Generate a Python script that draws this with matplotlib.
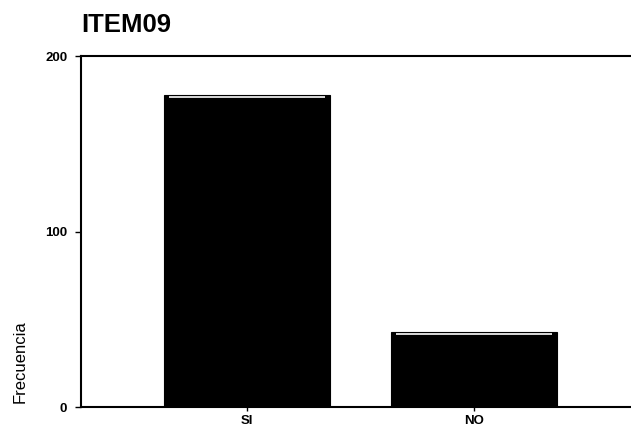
import matplotlib
matplotlib.use("Agg")
import matplotlib.pyplot as plt

categories = ["SI", "NO"]
counts = [178, 43]
y_ticks = [0, 100, 200]

plt.rcParams['font.family'] = ['Liberation Sans', 'DejaVu Sans']

fig = plt.figure(figsize=(6.31, 4.28), dpi=100)
ax = fig.add_axes([0.1284, 0.049, 0.8716, 0.82])

width = 0.731
x_pos = list(range(len(categories)))
ax.bar(x_pos, counts, width, color='black', edgecolor='black', linewidth=0.8)
# thin white highlight just under the top of each bar
for x, v in zip(x_pos, counts):
    ax.hlines(v - 1.4, x - width / 2 + 0.02, x + width / 2 - 0.02, color='white', linewidth=1.2)

ax.set_xlim(-0.731, 1.692)
ax.set_ylim(0, 200)
ax.set_yticks(y_ticks)
ax.set_xticks(x_pos)
ax.set_xticklabels(categories, fontsize=9.5, fontweight='bold')
ax.set_yticklabels([str(t) for t in y_ticks], fontsize=9.5, fontweight='bold')
ax.tick_params(axis='y', length=4, width=1, pad=6)
ax.tick_params(axis='x', length=3, width=1, pad=3)

for s in ['left', 'bottom', 'top']:
    ax.spines[s].set_linewidth(1.5)
ax.spines['right'].set_visible(False)

ax.set_ylabel("Frecuencia", fontsize=12)
ax.yaxis.set_label_coords(-0.097, 0.128)

fig.text(0.1284, 0.942, "ITEM09", fontsize=18.5, fontweight='bold', ha='left', va='center')

fig.savefig("out.png", dpi=100)
